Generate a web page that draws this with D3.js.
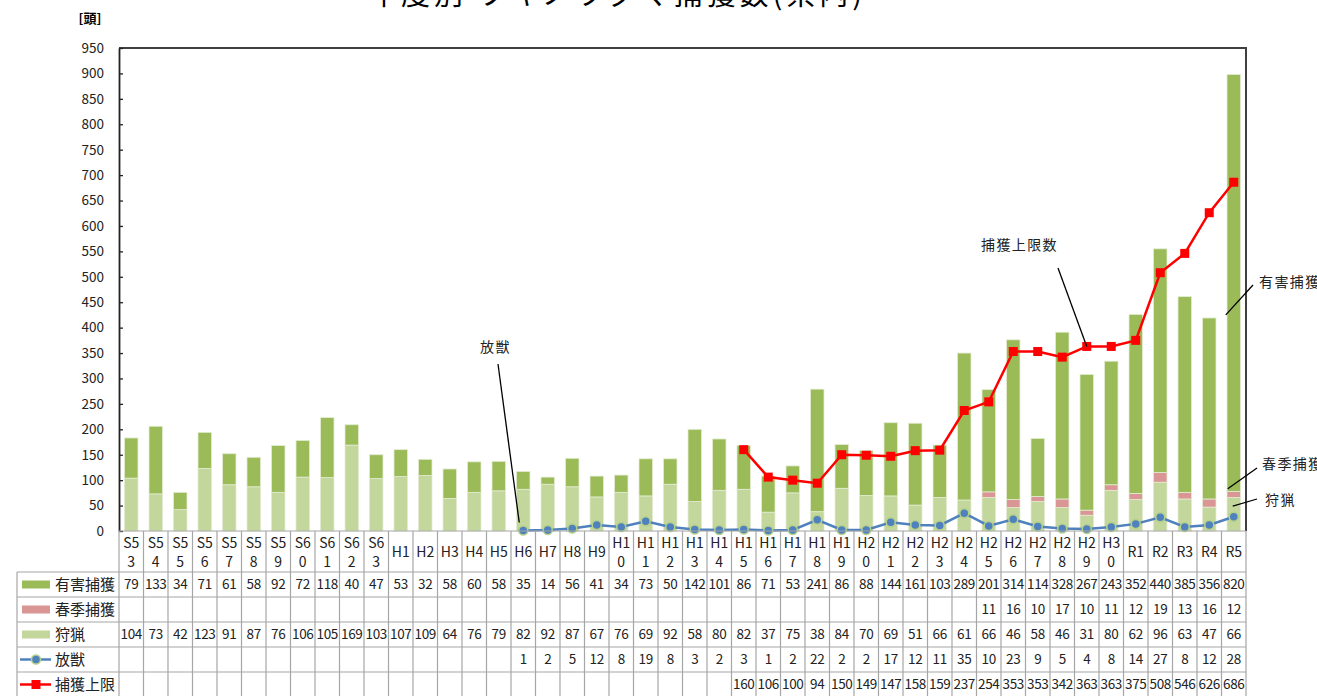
<!DOCTYPE html>
<html lang="ja">
<head>
<meta charset="utf-8">
<script src="https://cdn.jsdelivr.net/npm/d3@7"></script>
<style>
  html, body { margin: 0; padding: 0; background: #fff; }
  svg { display: block; font-family: "Noto Sans CJK JP", "Noto Sans", sans-serif; }
</style>
</head>
<body>
<svg id="chart" width="1317" height="696"></svg>
<script>
// 年度
const categories = ["S53","S54","S55","S56","S57","S58","S59","S60","S61","S62","S63",
  "H1","H2","H3","H4","H5","H6","H7","H8","H9","H10","H11","H12","H13","H14","H15",
  "H16","H17","H18","H19","H20","H21","H22","H23","H24","H25","H26","H27","H28","H29","H30",
  "R1","R2","R3","R4","R5"];

// 有害捕獲
const yugai = [79,133,34,71,61,58,92,72,118,40,47,53,32,58,60,58,35,14,56,41,
  34,73,50,142,101,86,71,53,241,86,88,144,161,103,289,201,314,114,328,267,243,
  352,440,385,356,820];

// 春季捕獲
const shunki = [null,null,null,null,null,null,null,null,null,null,null,
  null,null,null,null,null,null,null,null,null,null,null,null,null,null,null,
  null,null,null,null,null,null,null,null,null,11,16,10,17,10,11,
  12,19,13,16,12];

// 狩猟
const shuryo = [104,73,42,123,91,87,76,106,105,169,103,107,109,64,76,79,82,92,87,67,
  76,69,92,58,80,82,37,75,38,84,70,69,51,66,61,66,46,58,46,31,80,
  62,96,63,47,66];

// 放獣
const houjuu = [null,null,null,null,null,null,null,null,null,null,null,
  null,null,null,null,null,1,2,5,12,8,19,8,3,2,3,1,2,22,2,
  2,17,12,11,35,10,23,9,5,4,8,14,27,8,12,28];

// 捕獲上限
const jougen = [null,null,null,null,null,null,null,null,null,null,null,
  null,null,null,null,null,null,null,null,null,null,null,null,null,null,
  160,106,100,94,150,149,147,158,159,237,254,353,353,342,363,363,
  375,508,546,626,686];

const yTicks = [0,50,100,150,200,250,300,350,400,450,500,550,600,650,700,750,800,850,900,950];

const C = {
  yugai: "#9bbb59",
  shunki: "#d99694",
  shuryo: "#c3d69b",
  houjuu: "#4f81bd",
  jougen: "#ff0000",
  grid: "#a6a6a6",
  frame: "#404040"
};

const svg = d3.select("#chart");
const plot = { left: 119, right: 1246, top: 48, bottom: 531 };

const x = d3.scaleBand().domain(categories)
  .range([plot.left, plot.right]).paddingInner(0.45).paddingOuter(0.225);
const step = x.step();
const y = d3.scaleLinear().domain([0, 950]).range([plot.bottom, plot.top]);
const cx = c => x(c) + x.bandwidth() / 2;

// Title
svg.append("text").attr("x", 617).attr("y", 5)
  .attr("text-anchor", "middle").attr("font-size", 29).attr("letter-spacing", 4)
  .attr("fill", "#000")
  .text("年度別 ツキノワグマ捕獲数(県内)");

// Unit
svg.append("text").attr("x", 90).attr("y", 23)
  .attr("text-anchor", "middle").attr("font-size", 13).attr("font-weight", "bold")
  .text("[頭]");

// Stacked bars
const rows = categories.map((c, i) => ({
  cat: c, shuryo: shuryo[i] || 0, shunki: shunki[i] || 0, yugai: yugai[i] || 0
}));
const stack = d3.stack().keys(["shuryo", "shunki", "yugai"])(rows);
svg.append("g").selectAll("g").data(stack).join("g")
  .attr("fill", d => C[d.key])
  .selectAll("rect").data(d => d).join("rect")
  .attr("x", d => x(d.data.cat))
  .attr("width", x.bandwidth())
  .attr("y", d => y(d[1]))
  .attr("height", d => y(d[0]) - y(d[1]))
  .attr("stroke", "#e3ecd2").attr("stroke-width", 0.8);

// Frame and axis
svg.append("path")
  .attr("d", `M${plot.left},${plot.top}H${plot.right}V${plot.bottom}`)
  .attr("fill", "none").attr("stroke", C.frame).attr("stroke-width", 2);

const yAxis = d3.axisLeft(y).tickValues(yTicks).tickSizeInner(-4).tickSizeOuter(0).tickPadding(15);
const ya = svg.append("g").attr("transform", `translate(${plot.left},0)`).call(yAxis);
ya.select(".domain").attr("stroke", "#222").attr("stroke-width", 1.8);
ya.selectAll(".tick line").attr("stroke", "#222").attr("stroke-width", 1.3);
ya.selectAll(".tick text").attr("font-size", 13.5).attr("fill", "#222")
  .attr("font-family", "\"Noto Sans CJK JP\", sans-serif");

// Lines
const line = d3.line().defined(d => d.v != null).x(d => cx(d.c)).y(d => y(d.v));
const houjuuPts = categories.map((c, i) => ({ c, v: houjuu[i] }));
const jougenPts = categories.map((c, i) => ({ c, v: jougen[i] }));

svg.append("path").datum(houjuuPts).attr("d", line)
  .attr("fill", "none").attr("stroke", C.houjuu).attr("stroke-width", 2.5);
svg.append("g").selectAll("circle").data(houjuuPts.filter(d => d.v != null)).join("circle")
  .attr("cx", d => cx(d.c)).attr("cy", d => y(d.v)).attr("r", 4.5)
  .attr("fill", C.houjuu).attr("stroke", "#b7d08a").attr("stroke-width", 1.5);

svg.append("path").datum(jougenPts).attr("d", line)
  .attr("fill", "none").attr("stroke", C.jougen).attr("stroke-width", 2.5);
svg.append("g").selectAll("rect").data(jougenPts.filter(d => d.v != null)).join("rect")
  .attr("x", d => cx(d.c) - 4.5).attr("y", d => y(d.v) - 4.5)
  .attr("width", 9).attr("height", 9).attr("fill", C.jougen);

// Callouts
const callouts = [
  { text: "捕獲上限数", tx: 981, ty: 245, x1: 1058, y1: 268, cat: "H29", v: 363 },
  { text: "放獣", tx: 480, ty: 347, x1: 498, y1: 364, cat: "H6", v: 1, dx: -4, dy: -8 },
  { text: "有害捕獲", tx: 1259, ty: 282, x1: 1253, y1: 285, cat: "R5", v: 425, dx: -8 },
  { text: "春季捕獲", tx: 1262, ty: 464, x1: 1257, y1: 468, cat: "R5", v: 83, dx: -6 },
  { text: "狩猟", tx: 1265, ty: 500, x1: 1257, y1: 499, cat: "R5", v: 49, dx: -1 }
];
const cg = svg.append("g");
callouts.forEach(d => {
  cg.append("line").attr("x1", d.x1).attr("y1", d.y1)
    .attr("x2", cx(d.cat) + (d.dx || 0)).attr("y2", y(d.v) + (d.dy || 0))
    .attr("stroke", "#000").attr("stroke-width", 1.3);
  cg.append("text").attr("x", d.tx).attr("y", d.ty).attr("dy", "0.35em")
    .attr("font-size", 14).attr("letter-spacing", 1.4).attr("fill", "#222").text(d.text);
});

// Data table
const tableLeft = 17;
const headTop = plot.bottom, headBottom = 572, rowH = 25;
const series = [
  { name: "有害捕獲", vals: yugai, key: "bar", color: C.yugai },
  { name: "春季捕獲", vals: shunki, key: "bar", color: C.shunki },
  { name: "狩猟", vals: shuryo, key: "bar", color: C.shuryo },
  { name: "放獣", vals: houjuu, key: "circle", color: C.houjuu },
  { name: "捕獲上限", vals: jougen, key: "square", color: C.jougen }
];
const tg = svg.append("g");
const gl = (x1, y1, x2, y2) => tg.append("line").attr("x1", x1).attr("y1", y1)
  .attr("x2", x2).attr("y2", y2).attr("stroke", C.grid).attr("stroke-width", 1.2);

const tableBottom = headBottom + rowH * series.length;
// column separators
d3.range(categories.length + 1).forEach(i => {
  const xx = plot.left + i * step;
  gl(xx, headTop, xx, tableBottom);
});
gl(tableLeft, headBottom, tableLeft, tableBottom);
// row separators
d3.range(series.length + 1).forEach(j => {
  const yy = headBottom + j * rowH;
  gl(tableLeft, yy, plot.right, yy);
});
gl(plot.left, headTop, plot.right, headTop);

// category headers
categories.forEach(c => {
  const t = tg.append("text").attr("x", cx(c)).attr("text-anchor", "middle")
    .attr("font-size", 14).attr("fill", "#222");
  if (c.length > 2) {
    t.append("tspan").attr("x", cx(c)).attr("y", 548).text(c.slice(0, 2));
    t.append("tspan").attr("x", cx(c)).attr("y", 567).text(c.slice(2));
  } else {
    t.attr("y", 557).text(c);
  }
});

// rows
series.forEach((s, j) => {
  const yc = headBottom + j * rowH + rowH / 2;
  if (s.key === "bar") {
    tg.append("rect").attr("x", 22).attr("y", yc - 4).attr("width", 28).attr("height", 8)
      .attr("fill", s.color);
  } else {
    tg.append("line").attr("x1", 20).attr("x2", 51).attr("y1", yc).attr("y2", yc)
      .attr("stroke", s.color).attr("stroke-width", 2.5);
    if (s.key === "circle") {
      tg.append("circle").attr("cx", 36).attr("cy", yc).attr("r", 4.5)
        .attr("fill", s.color).attr("stroke", "#b7d08a").attr("stroke-width", 1.5);
    } else {
      tg.append("rect").attr("x", 31.5).attr("y", yc - 4.5).attr("width", 9).attr("height", 9)
        .attr("fill", s.color);
    }
  }
  tg.append("text").attr("x", 55).attr("y", yc).attr("dy", "0.36em")
    .attr("font-size", 15).attr("fill", "#222").text(s.name);
  categories.forEach((c, i) => {
    if (s.vals[i] == null) return;
    tg.append("text").attr("x", cx(c)).attr("y", yc).attr("dy", "0.36em")
      .attr("text-anchor", "middle").attr("font-size", 13.5).attr("letter-spacing", -0.3)
      .attr("fill", "#222").text(s.vals[i]);
  });
});
</script>
</body>
</html>
